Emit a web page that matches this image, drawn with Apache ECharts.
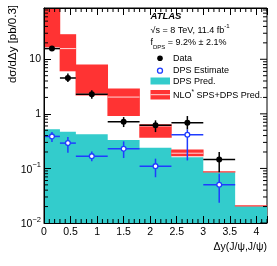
<!DOCTYPE html>
<html><head><meta charset="utf-8">
<script src="https://cdn.jsdelivr.net/npm/echarts@6/dist/echarts.min.js"></script>
<style>html,body{margin:0;padding:0;background:#fff}#c{width:277px;height:266px}</style>
</head><body><div id="c"></div>
<script>
// ---- data ----
const binLo = [0, 0.3, 0.6, 1.2, 1.8, 2.4, 3.0, 3.6];
const binHi = [0.3, 0.6, 1.2, 1.8, 2.4, 3.0, 3.6, 4.2];
const dpsPred = [0.520, 0.471, 0.421, 0.331, 0.240, 0.161, 0.0855, 0.0203];
const nloLow = [16.6, 6.02, 2.18, 0.912, 0.366, 0.168, 0.0855, 0.0203];
const nloCentral = [95, 15.7, 2.3, 2.03, 0.6, 0.19, 0.087, 0.0206];
const nloHigh = [150, 28.8, 8.0, 2.90, 0.642, 0.223, 0.0881, 0.0209];
const dataX = [0.15, 0.45, 0.9, 1.5, 2.1, 2.7, 3.3];
const dataXErr = [0.15, 0.15, 0.3, 0.3, 0.3, 0.3, 0.3];
const dataY = [15.7, 4.54, 2.28, 0.713, 0.615, 0.690, 0.146];
const dataYLow = [14.6, 3.83, 1.90, 0.573, 0.463, 0.520, 0.0855];
const dataYHigh = [16.9, 5.47, 2.70, 0.873, 0.760, 0.912, 0.199];
const dpsEstX = [0.15, 0.45, 0.9, 1.5, 2.1, 2.7, 3.3];
const dpsEstXErr = [0.15, 0.15, 0.3, 0.3, 0.3, 0.3, 0.3];
const dpsEstY = [0.386, 0.291, 0.168, 0.230, 0.110, 0.415, 0.0502];
const dpsEstYLow = [0.304, 0.194, 0.136, 0.155, 0.069, 0.140, 0.0235];
const dpsEstYHigh = [0.463, 0.375, 0.205, 0.313, 0.151, 0.520, 0.080];
const xTickLabels = ['0', '0.5', '1', '1.5', '2', '2.5', '3', '3.5', '4'];
const yTickLabels = {'-2': '{b|10}{s|−2}', '-1': '{b|10}{s|−1}', '0': '1', '1': '10'};
const yMajorTicks = [0.01, 0.1, 1, 10];
const xMin = 0, xMax = 4.2, yMin = 0.01, yMax = 87;

// minor tick positions (axis decoration)
const yTicks = [];
for (let e = -2; e <= 1; e++) for (let m = 1; m <= 9; m++) { const v = m * Math.pow(10, e); if (v < yMax) yTicks.push([0, v, m === 1 ? 7 : 4]); }
const xMinor = [];
for (let k = 1; k <= 42; k++) { if (k % 5 !== 0) xMinor.push([k / 10, 1]); }

const FONT = '"Liberation Sans", Arial, Helvetica, sans-serif';
const CYAN = '#33cccc', RED = '#ff3333', BLUE = '#1f3cff';

function clampY(y, cs) { return Math.max(cs.y, Math.min(cs.y + cs.height, y)); }

function histBandRender(params, api) {
  if (params.dataIndex !== 0) return null;
  const cs = params.coordSys;
  const children = [];
  const pts = [];
  pts.push(api.coord([binLo[0], yMin]));
  for (let i = 0; i < binLo.length; i++) {
    const a = api.coord([binLo[i], dpsPred[i]]);
    const b = api.coord([binHi[i], dpsPred[i]]);
    pts.push([a[0], clampY(a[1], cs)]);
    pts.push([b[0], clampY(b[1], cs)]);
  }
  pts.push(api.coord([binHi[binHi.length - 1], yMin]));
  children.push({ type: 'polygon', shape: { points: pts }, style: { fill: CYAN } });
  for (let i = 0; i < binLo.length; i++) {
    const pl = api.coord([binLo[i], nloLow[i]]);
    const pc = api.coord([binLo[i], nloCentral[i]]);
    const ph = api.coord([binHi[i], nloHigh[i]]);
    const yTop = clampY(ph[1], cs), yBot = clampY(pl[1], cs);
    let h = yBot - yTop; let y0 = yTop;
    if (h < 1.2) { y0 = yTop - (1.2 - h) / 2; h = 1.2; }
    const x1 = Math.max(cs.x, pl[0] - 0.3), x2 = Math.min(cs.x + cs.width, ph[0] + 0.3);
    children.push({ type: 'rect', shape: { x: x1, y: y0, width: x2 - x1, height: h }, style: { fill: RED } });
    if (pc[1] > cs.y + 1 && h > 4) {
      children.push({ type: 'line', shape: { x1: pl[0], y1: pc[1], x2: ph[0], y2: pc[1] }, style: { stroke: '#ffd6d6', lineWidth: 1 } });
    }
  }
  return { type: 'group', children };
}
function errRender(color, filled) {
  return function (params, api) {
    const x = api.value(0), y = api.value(1), xe = api.value(2), ylo = api.value(3), yhi = api.value(4);
    const c = api.coord([x, y]);
    const l = api.coord([x - xe, y]);
    const r = api.coord([x + xe, y]);
    const t = api.coord([x, yhi]);
    const b = api.coord([x, ylo]);
    const R = 3;
    const st = { stroke: color, lineWidth: 1.5 };
    const ch = [];
    ch.push({ type: 'line', shape: { x1: l[0], y1: c[1], x2: r[0], y2: c[1] }, style: st });
    ch.push({ type: 'line', shape: { x1: c[0], y1: t[1], x2: c[0], y2: b[1] }, style: st });
    if (filled) ch.push({ type: 'circle', shape: { cx: c[0], cy: c[1], r: R }, style: { fill: color } });
    else ch.push({ type: 'circle', shape: { cx: c[0], cy: c[1], r: R - 0.6 }, style: { fill: '#ffffff', stroke: color, lineWidth: 1.3 } });
    return { type: 'group', children: ch };
  };
}
function yTickRender(params, api) {
  const cs = params.coordSys;
  const p = api.coord([0, api.value(1)]);
  const len = api.value(2);
  const st = { stroke: '#000', lineWidth: 1 };
  const ch = [{ type: 'line', shape: { x1: cs.x + cs.width - len, y1: p[1], x2: cs.x + cs.width, y2: p[1] }, style: st }];
  if (len < 5) ch.push({ type: 'line', shape: { x1: cs.x, y1: p[1], x2: cs.x + len, y2: p[1] }, style: st });
  return { type: 'group', children: ch };
}
function xMinorRender(params, api) {
  const cs = params.coordSys;
  const p = api.coord([api.value(0), yMin]);
  const st = { stroke: '#000', lineWidth: 1 };
  return { type: 'group', children: [
    { type: 'line', shape: { x1: p[0], y1: cs.y + cs.height, x2: p[0], y2: cs.y + cs.height - 4 }, style: st },
    { type: 'line', shape: { x1: p[0], y1: cs.y, x2: p[0], y2: cs.y + 4 }, style: st }
  ] };
}

const histData = binLo.map((lo, i) => [lo, binHi[i], dpsPred[i]]);
const measData = dataX.map((x, i) => [x, dataY[i], dataXErr[i], dataYLow[i], dataYHigh[i]]);
const estData = dpsEstX.map((x, i) => [x, dpsEstY[i], dpsEstXErr[i], dpsEstYLow[i], dpsEstYHigh[i]]);

function xFmt(v) {
  const k = Math.round(v * 2);
  if (Math.abs(v * 2 - k) > 1e-6 || k < 0 || k > 8) return '';
  return xTickLabels[k];
}
function yFmt(v) {
  const lg = Math.log10(v); const e = Math.round(lg);
  if (Math.abs(lg - e) > 1e-6) return '';
  return yTickLabels[String(e)] || '';
}

const chart = echarts.init(document.getElementById('c'));
chart.setOption({
  animation: false,
  backgroundColor: '#fff',
  grid: { left: 44, right: 10, top: 8, bottom: 43, show: true, borderColor: '#000', borderWidth: 1, backgroundColor: 'transparent' },
  xAxis: [
    { type: 'value', min: xMin, max: xMax, interval: 0.5, z: 10, splitLine: { show: false },
      axisLine: { show: true, lineStyle: { color: '#000' } },
      axisTick: { show: true, inside: true, length: 7, lineStyle: { color: '#000' } },
      axisLabel: { show: true, formatter: xFmt, margin: 4, fontSize: 10.5, color: '#000', fontFamily: FONT } },
    { type: 'value', min: xMin, max: xMax, interval: 0.5, position: 'top', z: 10, splitLine: { show: false },
      axisLine: { show: true, lineStyle: { color: '#000' } },
      axisTick: { show: true, inside: true, length: 7, lineStyle: { color: '#000' } },
      axisLabel: { show: false } }
  ],
  yAxis: { type: 'log', logBase: 10, min: yMin, max: yMax, z: 10, splitLine: { show: false },
      axisLine: { show: true, lineStyle: { color: '#000' } },
      axisTick: { show: true, inside: true, length: 7, lineStyle: { color: '#000' } },
      axisLabel: { show: true, formatter: yFmt, margin: 3, color: '#000', fontFamily: FONT, fontSize: 10.5,
        rich: { b: { fontSize: 10.5, fontFamily: FONT, color: '#000', lineHeight: 14, verticalAlign: 'bottom' },
                s: { fontSize: 7.5, fontFamily: FONT, color: '#000', verticalAlign: 'top', lineHeight: 8 } } } },
  series: [
    { type: 'custom', renderItem: histBandRender, data: histData, encode: { x: [0, 1], y: 2 }, z: 1, silent: true },
    { type: 'custom', renderItem: errRender(BLUE, false), data: estData, encode: { x: 0, y: 1 }, z: 3, silent: true },
    { type: 'custom', renderItem: errRender('#000', true), data: measData, encode: { x: 0, y: 1 }, z: 4, silent: true },
    { type: 'custom', renderItem: yTickRender, data: yTicks, encode: { x: 0, y: 1 }, z: 11, silent: true },
    { type: 'custom', renderItem: xMinorRender, data: xMinor, encode: { x: 0, y: 1 }, z: 11, silent: true }
  ],
  graphic: [
    { type: 'text', x: 13, y: 5, rotation: Math.PI / 2, style: { text: 'dσ/dΔy [pb/0.3]', font: '11.5px ' + FONT, fill: '#000', align: 'right', verticalAlign: 'middle' } },
    { type: 'text', x: 267, y: 247, style: { text: 'Δy(J/ψ,J/ψ)', font: '10.5px ' + FONT, fill: '#000', align: 'right', verticalAlign: 'middle' } },
    { type: 'text', x: 150.5, y: 16, style: { text: 'ATLAS', font: 'italic bold 9.5px ' + FONT, fill: '#000', align: 'left', verticalAlign: 'middle' } },
    { type: 'text', x: 150.5, y: 29, style: { text: '{n|√s = 8 TeV, 11.4 fb}{s|-1}', align: 'left', verticalAlign: 'middle',
        rich: { n: { fontSize: 9, fontFamily: FONT, color: '#000', lineHeight: 12, verticalAlign: 'bottom' }, s: { fontSize: 6, fontFamily: FONT, color: '#000', verticalAlign: 'top', lineHeight: 6 } } } },
    { type: 'text', x: 150.5, y: 44, style: { text: '{n|f}{d|DPS}{n| = 9.2% ± 2.1%}', align: 'left', verticalAlign: 'middle',
        rich: { n: { fontSize: 9, fontFamily: FONT, color: '#000', lineHeight: 12, verticalAlign: 'top' }, d: { fontSize: 6, fontFamily: FONT, color: '#000', verticalAlign: 'bottom', lineHeight: 6 } } } },
    { type: 'circle', shape: { cx: 160, cy: 58.3, r: 2.8 }, style: { fill: '#000' } },
    { type: 'text', x: 173, y: 58.3, style: { text: 'Data', font: '9px ' + FONT, fill: '#000', align: 'left', verticalAlign: 'middle' } },
    { type: 'circle', shape: { cx: 160, cy: 70.7, r: 2.5 }, style: { fill: '#ffffff', stroke: BLUE, lineWidth: 1.3 } },
    { type: 'text', x: 173, y: 70.7, style: { text: 'DPS Estimate', font: '9px ' + FONT, fill: '#000', align: 'left', verticalAlign: 'middle' } },
    { type: 'rect', shape: { x: 150.5, y: 77.5, width: 19.5, height: 7 }, style: { fill: CYAN } },
    { type: 'text', x: 173, y: 81.5, style: { text: 'DPS Pred.', font: '9px ' + FONT, fill: '#000', align: 'left', verticalAlign: 'middle' } },
    { type: 'rect', shape: { x: 150.5, y: 90, width: 19.5, height: 9.5 }, style: { fill: RED } },
    { type: 'line', shape: { x1: 150.5, y1: 94.7, x2: 170, y2: 94.7 }, style: { stroke: '#ffd6d6', lineWidth: 1 } },
    { type: 'text', x: 173, y: 94.7, style: { text: '{n|NLO}{s|*}{n| SPS+DPS Pred.}', align: 'left', verticalAlign: 'middle',
        rich: { n: { fontSize: 9, fontFamily: FONT, color: '#000', lineHeight: 11, verticalAlign: 'bottom' }, s: { fontSize: 6.5, fontFamily: FONT, color: '#000', verticalAlign: 'top', lineHeight: 7 } } } }
  ]
});
</script>
</body></html>
